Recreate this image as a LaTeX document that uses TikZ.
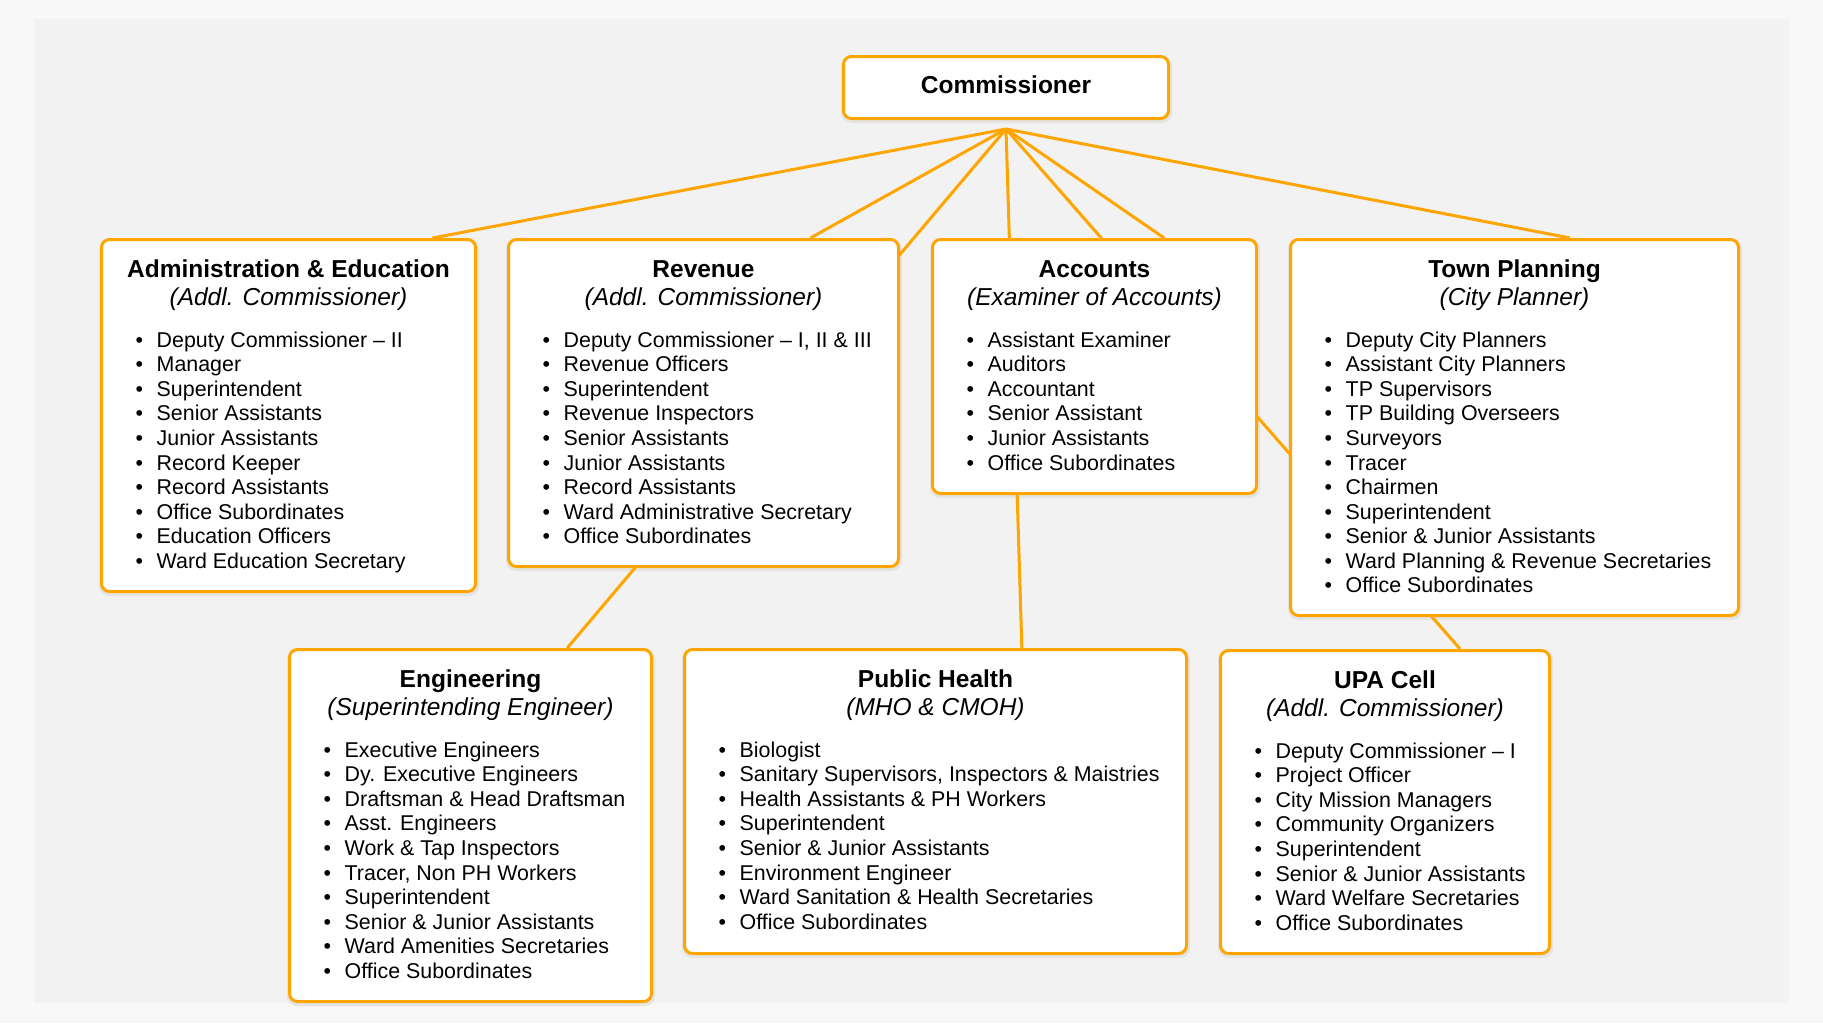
\documentclass[tikz,border=0pt]{standalone}
\usepackage{fontspec}
\setmainfont{Liberation Sans}
\usetikzlibrary{calc}
\pgfdeclarelayer{background}
\pgfsetlayers{background,main}
\definecolor{outerbg}{HTML}{F8F8F8}
\definecolor{panelbg}{HTML}{F2F2F2}
\definecolor{orgline}{HTML}{FFA500}
\definecolor{shadowc}{HTML}{E4E4E4}
\tikzset{
  deptbox/.style={draw=orgline, line width=3pt, fill=white, rounded corners=8pt,
    inner sep=0pt, anchor=north west},
  ttl/.style={anchor=base, inner sep=0pt, font=\fontsize{24.5}{28}\selectfont\bfseries},
  subttl/.style={anchor=base, inner sep=0pt, font=\fontsize{24.5}{28}\selectfont\itshape},
  itm/.style={anchor=base west, inner sep=0pt, font=\fontsize{21.4}{24.6}\selectfont},
  conn/.style={draw=orgline, line width=3pt},
  shad/.style={fill=shadowc, rounded corners=10pt}
}
\newcommand\deptnode[7]{%
  \node[deptbox, minimum width={#4-#2}, minimum height={#5-#3}] (#1) at (#2,#3) {};
  \node[ttl] (#1-t) at ($(#1.north)+(0,39.7)$) {#6};
  \node[subttl] (#1-s) at ($(#1.north)+(0,67)$) {#7};
}
\newcommand\deptitems[2]{%
  \foreach \t [count=\i] in {#2} {
    \node[itm] (#1-i\i) at ($(#1.north west)+(35.3,{109.3+(\i-1)*24.56})$) {\makebox[21.2pt][l]{•}\t};
  }
}
\newcommand\deptshadow[1]{%
  \fill[shad] ($(#1.north west)+(-1,1)$) rectangle ($(#1.south east)+(2,3)$);
}
\begin{document}
\begin{tikzpicture}[x=1pt,y=-1pt]
\useasboundingbox (0,0) rectangle (1823,1023);

% Commissioner
\node[deptbox, minimum width=325, minimum height=62] (comm) at (842,55) {};
\node[ttl] (comm-t) at ($(comm.north)+(0,38.3)$) {Commissioner};
\coordinate (apex) at ($(comm.south)+(0,9)$);

% Top row
\deptnode{admin}{100}{238}{474}{590}{Administration \& Education}{(Addl. Commissioner)}
\deptitems{admin}{Deputy Commissioner – II, Manager, Superintendent, Senior Assistants, Junior Assistants, Record Keeper, Record Assistants, Office Subordinates, Education Officers, Ward Education Secretary}

\deptnode{rev}{507}{238}{897}{565}{Revenue}{(Addl. Commissioner)}
\deptitems{rev}{{Deputy Commissioner – I, II \& III}, Revenue Officers, Superintendent, Revenue Inspectors, Senior Assistants, Junior Assistants, Record Assistants, Ward Administrative Secretary, Office Subordinates}

\deptnode{acc}{931}{238}{1255}{492}{Accounts}{(Examiner of Accounts)}
\deptitems{acc}{Assistant Examiner, Auditors, Accountant, Senior Assistant, Junior Assistants, Office Subordinates}

\deptnode{tp}{1289}{238}{1737}{614}{Town Planning}{(City Planner)}
\deptitems{tp}{Deputy City Planners, Assistant City Planners, TP Supervisors, TP Building Overseers, Surveyors, Tracer, Chairmen, Superintendent, Senior \& Junior Assistants, Ward Planning \& Revenue Secretaries, Office Subordinates}

% Bottom row
\deptnode{eng}{288}{648}{650}{1000}{Engineering}{(Superintending Engineer)}
\deptitems{eng}{Executive Engineers, Dy. Executive Engineers, Draftsman \& Head Draftsman, Asst. Engineers, Work \& Tap Inspectors, {Tracer, Non PH Workers}, Superintendent, Senior \& Junior Assistants, Ward Amenities Secretaries, Office Subordinates}

\deptnode{ph}{683}{648}{1185}{952}{Public Health}{(MHO \& CMOH)}
\deptitems{ph}{Biologist, {Sanitary Supervisors, Inspectors \& Maistries}, Health Assistants \& PH Workers, Superintendent, Senior \& Junior Assistants, Environment Engineer, Ward Sanitation \& Health Secretaries, Office Subordinates}

\deptnode{upa}{1219}{649}{1548}{952}{UPA Cell}{(Addl. Commissioner)}
\deptitems{upa}{Deputy Commissioner – I, Project Officer, City Mission Managers, Community Organizers, Superintendent, Senior \& Junior Assistants, Ward Welfare Secretaries, Office Subordinates}

% Background, shadows and connectors (behind boxes)
\begin{pgfonlayer}{background}
  \fill[outerbg] (0,0) rectangle (1823,1023);
  \fill[panelbg] (34,19) rectangle (1789,1003);
  \foreach \b in {comm,admin,rev,acc,tp,eng,ph,upa} {\deptshadow{\b}}
  \draw[conn] (apex) -- ($(admin.north west)!0.882!(admin.north east)$);
  \draw[conn] (apex) -- ($(rev.north west)!0.772!(rev.north east)$);
  \draw[conn] (apex) -- ($(eng.north west)!0.765!(eng.north east)$);
  \draw[conn] (apex) -- ($(ph.north west)!0.671!(ph.north east)$);
  \draw[conn] (apex) -- ($(acc.north west)!0.713!(acc.north east)$);
  \draw[conn] (apex) -- ($(upa.north west)!0.726!(upa.north east)$);
  \draw[conn] (apex) -- ($(tp.north west)!0.623!(tp.north east)$);
\end{pgfonlayer}
\end{tikzpicture}
\end{document}
